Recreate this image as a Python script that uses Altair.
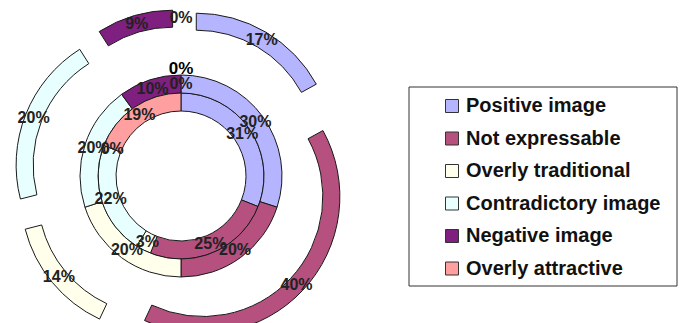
import math
import altair as alt
import pandas as pd

# ---- data ----
categories = ["Positive image", "Not expressable", "Overly traditional",
              "Contradictory image", "Negative image", "Overly attractive"]
colors = ["#B4B4FF", "#B5507F", "#FFFFEB", "#E8FFFF", "#7F1F7F", "#FF9F9F"]
inner_ring = [31, 25, 3, 22, 0, 19]
middle_ring = [30, 20, 20, 20, 10, 0]
outer_ring = [17, 40, 14, 20, 9, 0]

# ---- layout ----
CX, CY = 181, 176
ring_inner_r = [65, 83, 120]
ring_outer_r = [83, 101, 137]
ring_explode = [0, 0, 30]

rows = []
for ri, vals in enumerate([inner_ring, middle_ring, outer_ring]):
    cum = 0
    for ci, (cat, v) in enumerate(zip(categories, vals)):
        rows.append(dict(ring=ri, cat=cat, order=ci, value=v, start=cum, end=cum + v,
                         r0=ring_inner_r[ri], r1=ring_outer_r[ri], d=ring_explode[ri]))
        cum += v
df = pd.DataFrame(rows)

base = alt.Chart(df).transform_calculate(
    t0="datum.start / 100 * 2 * PI",
    t1="datum.end / 100 * 2 * PI",
    tm="(datum.start + datum.end) / 200 * 2 * PI",
).transform_calculate(
    cx=f"{CX} + datum.d * sin(datum.tm)",
    cy=f"{CY} - datum.d * cos(datum.tm)",
    rm="(datum.r0 + datum.r1) / 2",
    label="datum.value + '%'",
).transform_calculate(
    lx="datum.cx + datum.rm * sin(datum.tm)",
    ly="datum.cy - datum.rm * cos(datum.tm)",
)

arcs = base.transform_filter("datum.value > 0").mark_arc(
    stroke="#1a1a1a", strokeWidth=1
).encode(
    x=alt.X("cx:Q", scale=None, axis=None),
    y=alt.Y("cy:Q", scale=None, axis=None),
    theta=alt.Theta("t0:Q", scale=None, stack=False),
    theta2="t1:Q",
    radius=alt.Radius("r1:Q", scale=None),
    radius2="r0:Q",
    color=alt.Color(
        "cat:N",
        scale=alt.Scale(domain=categories, range=colors),
        legend=alt.Legend(
            orient="none", legendX=442, legendY=96, title=None,
            symbolType="square", symbolSize=169, symbolStrokeColor="#333333",
            symbolStrokeWidth=1, symbolOpacity=1,
            labelFont="Liberation Sans", labelFontSize=20, labelFontWeight="bold",
            labelColor="#111111", labelOffset=4, rowPadding=12.5, padding=0,
            labelLimit=300,
        ),
    ),
    order=alt.Order("order:Q"),
)

labels = base.mark_text(
    font="Liberation Sans", fontSize=16, fontWeight="bold", color="#222222",
    align="center", baseline="middle",
).encode(
    x=alt.X("lx:Q", scale=None, axis=None),
    y=alt.Y("ly:Q", scale=None, axis=None),
    text="label:N",
)

extra = alt.Chart(pd.DataFrame({"label": ["0%"]})).mark_text(
    font="Liberation Sans", fontSize=17, fontWeight="bold", color="#000000",
    align="center", baseline="middle",
).encode(
    x=alt.value(CX), y=alt.value(CY - 107), text="label:N"
)

legend_box = alt.Chart(pd.DataFrame({"a": [0]})).mark_rect(
    fill="white", stroke="#333333", strokeWidth=1
).encode(
    x=alt.value(409), x2=alt.value(677), y=alt.value(87), y2=alt.value(286)
)

chart = alt.layer(legend_box, arcs, labels, extra).properties(
    width=680, height=323,
    autosize=alt.AutoSizeParams(type="none"),
    padding=0,
    background="white",
).configure_view(stroke=None)

chart.save("out.html", embed_options={"renderer": "svg", "actions": False})
